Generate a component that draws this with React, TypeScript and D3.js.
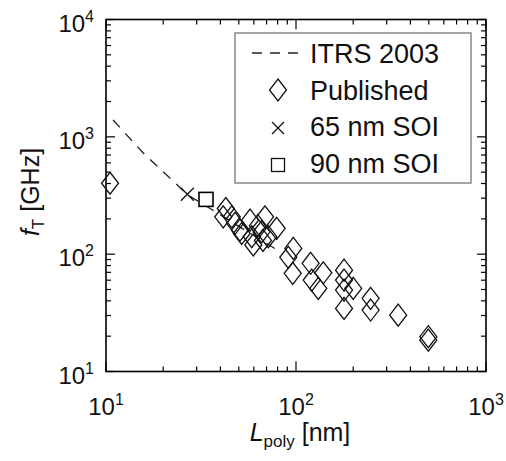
import * as d3 from 'd3';

// ITRS 2003 roadmap line (Lpoly nm, fT GHz)
const itrsL = [10.9, 15.7, 27, 35.3, 80];
const itrsFt = [1390, 728, 319, 245, 108];

// published devices
const pubL = [10.5, 42.7, 41.4, 45.9, 47.8, 50.7, 51.8, 57.3, 58.5, 59.6, 68.7, 65.9, 71.5, 79.1, 63, 67,
  96.8, 91.1, 96.1, 119.4, 139.2, 121, 131, 179, 179, 179, 200, 179, 247, 247, 345, 497, 497];
const pubFt = [402, 245, 208, 208, 183, 160, 150, 195, 141, 120, 208, 155, 141, 166, 175, 131,
  112, 94, 68.6, 83.6, 69.4, 60.1, 51.1, 73.1, 60.1, 49.4, 51.1, 34.5, 42.0, 33.4, 30.2, 19.8, 18.5];

const soi65L = [26.8];
const soi65Ft = [324];
const soi90L = [33.6];
const soi90Ft = [293];

const xDecades = [10, 100, 1000];
const yDecades = [10, 100, 1000, 10000];
const legendLabels = ['ITRS 2003', 'Published', '65 nm SOI', '90 nm SOI'];

const FONT = '"Liberation Sans", Arial, Helvetica, sans-serif';

const diamond = (cx: number, cy: number, w = 8.5, h = 11) =>
  `M${cx},${cy - h}L${cx + w},${cy}L${cx},${cy + h}L${cx - w},${cy}Z`;

const cross = (cx: number, cy: number, r = 6.5) =>
  `M${cx - r},${cy - r}L${cx + r},${cy + r}M${cx - r},${cy + r}L${cx + r},${cy - r}`;

export default function App() {
  const margin = { left: 106, right: 20, top: 19.5, bottom: 89.5 };
  const width = 506, height = 461;
  const x = d3.scaleLog().domain([10, 1000]).range([margin.left, width - margin.right]);
  const y = d3.scaleLog().domain([10, 10000]).range([height - margin.bottom, margin.top]);
  const [x0, x1] = x.range();
  const [y0, y1] = y.range();

  const isMajor = (v: number) => Math.abs(Math.log10(v) - Math.round(Math.log10(v))) < 1e-9;
  const xTicks = x.ticks();
  const yTicks = y.ticks();

  const line = d3.line<number>()
    .x((_, i) => x(itrsL[i]))
    .y(d => y(d));

  const exp = (v: number) => Math.round(Math.log10(v));

  return (
    <svg width={width} height={height} style={{ position: 'absolute', left: 0, top: 0, background: '#fff' }}
      fontFamily={FONT}>
      {/* ticks */}
      <g stroke="#000" strokeWidth={1.2}>
        {xTicks.map((t, i) => {
          const len = isMajor(t) ? 10 : 5;
          return (
            <g key={'xt' + i}>
              <line x1={x(t)} x2={x(t)} y1={y0} y2={y0 - len} />
              <line x1={x(t)} x2={x(t)} y1={y1} y2={y1 + len} />
            </g>
          );
        })}
        {yTicks.map((t, i) => {
          const len = isMajor(t) ? 9 : 5;
          return (
            <g key={'yt' + i}>
              <line x1={x0} x2={x0 + len} y1={y(t)} y2={y(t)} />
              <line x1={x1} x2={x1 - len} y1={y(t)} y2={y(t)} />
            </g>
          );
        })}
      </g>
      <rect x={x0} y={y1} width={x1 - x0} height={y0 - y1} fill="none" stroke="#000" strokeWidth={1.6} />

      {/* tick labels */}
      <g fontSize={24} fill="#111">
        {xDecades.map(v => (
          <text key={'xl' + v} x={x(v)} y={415} textAnchor="middle">
            10<tspan fontSize={16} dy={-10}>{exp(v)}</tspan>
          </text>
        ))}
        {yDecades.map(v => (
          <text key={'yl' + v} x={x0 - 12} y={y(v) + 12} textAnchor="end">
            10<tspan fontSize={16} dy={-10}>{exp(v)}</tspan>
          </text>
        ))}
      </g>

      {/* axis titles */}
      <text x={300} y={441} textAnchor="middle" fontSize={25} fill="#111">
        <tspan fontStyle="italic">L</tspan>
        <tspan fontSize={17} dy={6}>poly</tspan>
        <tspan dy={-6}> [nm]</tspan>
      </text>
      <text transform="translate(39,192) rotate(-90)" textAnchor="middle" fontSize={25} fill="#111">
        <tspan fontStyle="italic">f</tspan>
        <tspan fontSize={17} dy={5}>T</tspan>
        <tspan dy={-5}> [GHz]</tspan>
      </text>

      {/* ITRS line */}
      <path d={line(itrsFt) ?? ''} fill="none" stroke="#222" strokeWidth={1.3} strokeDasharray="10,8" />

      {/* published */}
      <g fill="none" stroke="#111" strokeWidth={1.3}>
        {pubL.map((l, i) => (
          <path key={'p' + i} d={diamond(x(l), y(pubFt[i]))} />
        ))}
        {soi65L.map((l, i) => (
          <path key={'c' + i} d={cross(x(l), y(soi65Ft[i]))} />
        ))}
      </g>
      <g fill="#fff" stroke="#000" strokeWidth={1.6}>
        {soi90L.map((l, i) => (
          <rect key={'s' + i} x={x(l) - 7} y={y(soi90Ft[i]) - 7} width={14} height={14} />
        ))}
      </g>

      {/* legend */}
      <g>
        <rect x={235} y={33} width={236} height={150} fill="#fff" stroke="#888" strokeWidth={1.5} />
        <line x1={252} x2={304} y1={53} y2={53} stroke="#222" strokeWidth={1.3} strokeDasharray="10,8" />
        <path d={diamond(278, 90)} fill="none" stroke="#111" strokeWidth={1.3} />
        <path d={cross(278, 128, 6)} fill="none" stroke="#111" strokeWidth={1.3} />
        <rect x={271.5} y={158.5} width={13} height={13} fill="none" stroke="#111" strokeWidth={1.3} />
        {legendLabels.map((s, i) => (
          <text key={s} x={310} y={63 + i * 36.5} fontSize={27} fill="#111">{s}</text>
        ))}
      </g>
    </svg>
  );
}
